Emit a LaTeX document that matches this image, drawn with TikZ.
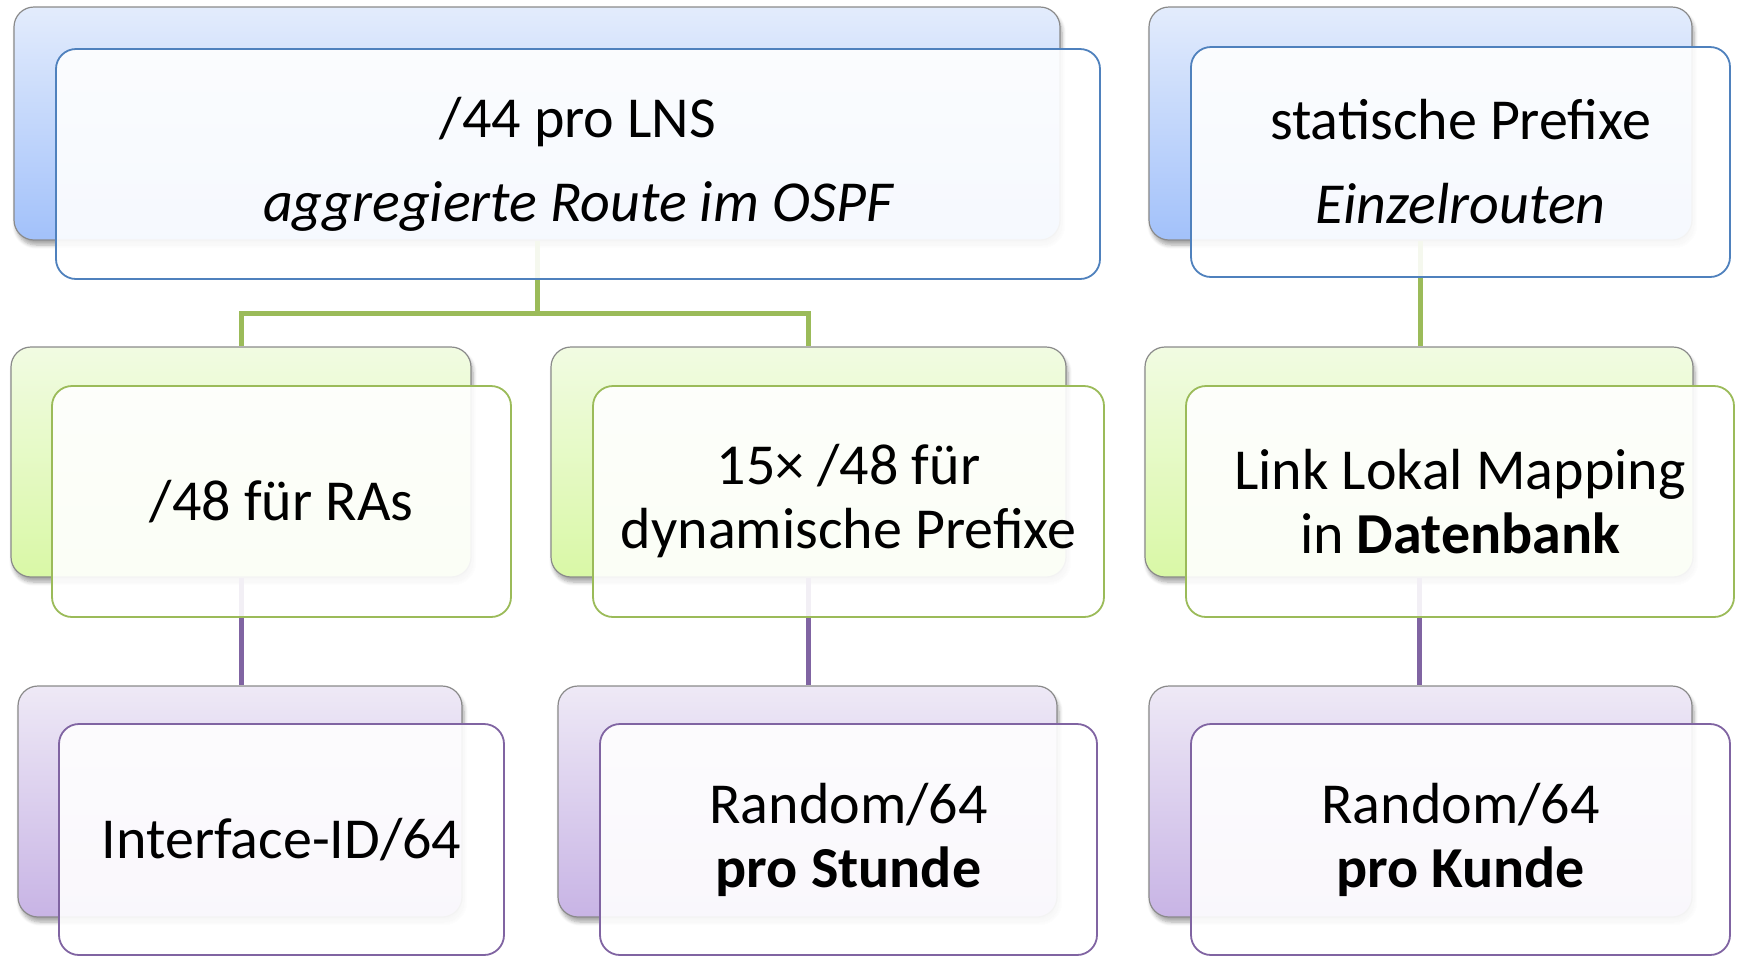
\documentclass[tikz,border=0pt]{standalone}
\usepackage{fontspec}
\setmainfont{Carlito}
\usetikzlibrary{shadows.blur}
\definecolor{bluebd}{HTML}{4F81BD}
\definecolor{greenbd}{HTML}{9BBB59}
\definecolor{purplebd}{HTML}{8064A2}
\definecolor{bluetop}{HTML}{E3ECFC}
\definecolor{bluebot}{HTML}{A2C1FA}
\definecolor{greentop}{HTML}{F1FBE2}
\definecolor{greenbot}{HTML}{D9F8A6}
\definecolor{purpletop}{HTML}{EEE9F6}
\definecolor{purplebot}{HTML}{C8B4E5}
\definecolor{backbd}{HTML}{8A8A8A}
\begin{document}
\begin{tikzpicture}[x=0.5pt,y=-0.5pt,
  backbox/.style={draw=backbd, line width=0.6pt, rounded corners=10pt, inner sep=0pt,
    blur shadow={shadow blur steps=6, shadow xshift=1pt, shadow yshift=-2.5pt, shadow opacity=35}},
  bblue/.style={backbox, top color=bluetop, bottom color=bluebot},
  bgreen/.style={backbox, top color=greentop, bottom color=greenbot},
  bpurple/.style={backbox, top color=purpletop, bottom color=purplebot},
  frontbox/.style={draw, line width=0.9pt, rounded corners=10pt, fill=white, fill opacity=0.9,
    text opacity=1, draw opacity=1, align=center, inner sep=0pt,
    font=\fontsize{29}{32}\selectfont},
  fblue/.style={frontbox, draw=bluebd},
  fgreen/.style={frontbox, draw=greenbd},
  fpurple/.style={frontbox, draw=purplebd},
  gline/.style={draw=greenbd, line width=2.5pt},
  pline/.style={draw=purplebd, line width=2.5pt}]
\useasboundingbox (0,0) rectangle (1737,955);

% back boxes
\node[bblue, minimum width=523pt, minimum height=116.5pt] (b1) at (537,123.5) {};
\node[bblue, minimum width=271.5pt, minimum height=116.5pt] (b2) at (1420.5,123.5) {};
\node[bgreen, minimum width=230pt, minimum height=115pt] (g1) at (241,462) {};
\node[bgreen, minimum width=257.5pt, minimum height=115pt] (g2) at (808.5,462) {};
\node[bgreen, minimum width=274pt, minimum height=115pt] (g3) at (1419,462) {};
\node[bpurple, minimum width=222pt, minimum height=115.5pt] (p1) at (240,801.5) {};
\node[bpurple, minimum width=249.5pt, minimum height=115.5pt] (p2) at (807.5,801.5) {};
\node[bpurple, minimum width=271.5pt, minimum height=115.5pt] (p3) at (1420.5,801.5) {};

% connectors
\coordinate (j1) at ([yshift=-36.5pt]b1.south);
\draw[gline] (b1.south) -- (j1) -| (g1.north);
\draw[gline] (j1) -| (g2.north);
\draw[gline] (b2.south) -- (b2.south |- g3.north);
\draw[pline] (g1.south) -- (g1.south |- p1.north);
\draw[pline] (g2.south) -- (g2.south |- p2.north);
\draw[pline] (g3.south) -- (g3.south |- p3.north);

% front boxes
\node[fblue, minimum width=522pt, minimum height=115pt] (f1) at (578,164)
  {/44 pro LNS\\[10pt]\itshape aggregierte Route im OSPF};
\node[fblue, minimum width=269.5pt, minimum height=115pt] (f2) at (1460.5,162)
  {statische Prefixe\\[10pt]\itshape Einzelrouten};
\node[fgreen, minimum width=229.5pt, minimum height=115.5pt] (f3) at (281.5,501.5)
  {/48 für RAs};
\node[fgreen, minimum width=255.5pt, minimum height=115.5pt] (f4) at (848.5,501.5)
  {15× /48 für\\dynamische Prefixe};
\node[fgreen, minimum width=274pt, minimum height=115.5pt] (f5) at (1460,501.5)
  {Link Lokal Mapping\\in \textbf{Datenbank}};
\node[fpurple, minimum width=222.5pt, minimum height=115.5pt] (f6) at (281.5,839.5)
  {Interface-ID/64};
\node[fpurple, minimum width=248.5pt, minimum height=115.5pt] (f7) at (848.5,839.5)
  {Random/64\\\textbf{pro Stunde}};
\node[fpurple, minimum width=269.5pt, minimum height=115.5pt] (f8) at (1460.5,839.5)
  {Random/64\\\textbf{pro Kunde}};
\end{tikzpicture}
\end{document}
